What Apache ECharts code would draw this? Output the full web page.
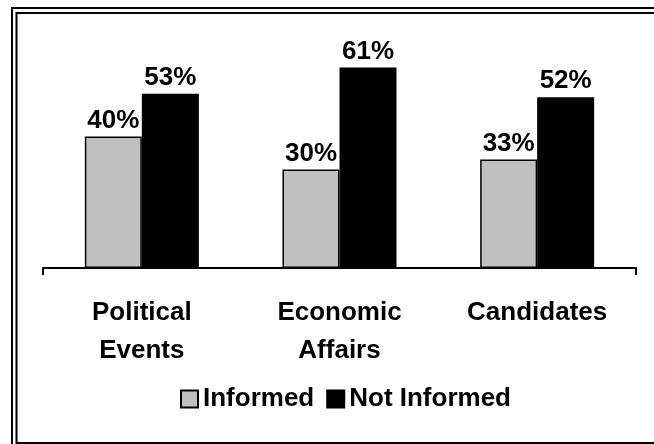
<!DOCTYPE html>
<html>
<head>
<meta charset="utf-8">
<script src="https://cdn.jsdelivr.net/npm/echarts@6/dist/echarts.min.js"></script>
<style>html,body{margin:0;padding:0;background:#fff}#c{width:654px;height:444px}</style>
</head>
<body>
<div id="c"></div>
<script>
const categories = ['Political\nEvents', 'Economic\nAffairs', 'Candidates'];
const seriesNames = ['Informed', 'Not Informed'];
const informed = [40, 30, 33];
const notInformed = [53, 61, 52];

const FONT = '"Liberation Sans", Arial, sans-serif';
const chart = echarts.init(document.getElementById('c'));
const labelCfg = {
  show: true, position: 'top', distance: 3,
  formatter: p => p.value + '%',
  color: '#000', fontFamily: FONT, fontWeight: 'bold', fontSize: 26
};
chart.setOption({
  animation: false,
  backgroundColor: '#fff',
  graphic: [
    { type: 'rect', shape: { x: 12, y: 8, width: 700, height: 500 }, style: { fill: 'none', stroke: '#000', lineWidth: 2 }, silent: true },
    { type: 'rect', shape: { x: 16.5, y: 13, width: 700, height: 430 }, style: { fill: 'none', stroke: '#000', lineWidth: 2 }, silent: true }
  ],
  legend: {
    data: seriesNames,
    left: 175, top: 381,
    itemWidth: 17, itemHeight: 17, itemGap: 12,
    icon: 'rect',
    textStyle: { color: '#000', fontFamily: FONT, fontWeight: 'bold', fontSize: 26 }
  },
  grid: { left: 43, right: 18, top: 38, bottom: 176, containLabel: false },
  xAxis: {
    type: 'category', data: categories,
    axisLine: { lineStyle: { color: '#000', width: 2 } },
    axisTick: { show: true, length: 7, interval: i => i === 0, lineStyle: { color: '#000', width: 2 } },
    axisLabel: { color: '#000', fontFamily: FONT, fontWeight: 'bold', fontSize: 26, lineHeight: 38, margin: 26, interval: 0 }
  },
  yAxis: { type: 'value', min: 0, max: 70, show: false, splitLine: { show: false } },
  series: [
    { name: seriesNames[0], type: 'bar', data: informed, barWidth: 57, barGap: '0%',
      itemStyle: { color: '#c0c0c0', borderColor: '#000', borderWidth: 1.5 }, label: labelCfg },
    { name: seriesNames[1], type: 'bar', data: notInformed, barWidth: 57, barGap: '0%',
      itemStyle: { color: '#000', borderColor: '#000', borderWidth: 1.5 }, label: labelCfg }
  ]
});
</script>
</body>
</html>
